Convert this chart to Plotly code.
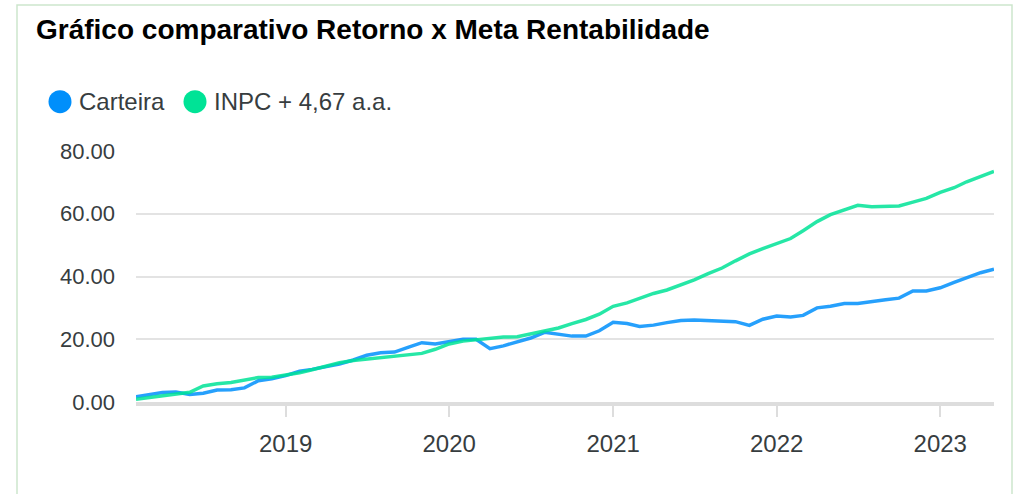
import plotly.graph_objects as go
import pandas as pd

# ---- data ----
months = pd.date_range("2018-02-01", periods=64, freq="MS")
carteira = [1.7, 2.2, 3.0, 3.2, 2.4, 2.8, 3.8, 3.9, 4.5, 6.8, 7.4, 8.4,
            9.8, 10.4, 11.3, 12.1, 13.4, 14.9, 15.7, 15.9, 17.4, 18.9, 18.5, 19.3,
            20.0, 20.0, 17.0, 17.9, 19.1, 20.4, 22.2, 21.7, 21.0, 21.0, 22.7, 25.4,
            25.0, 24.1, 24.5, 25.3, 26.0, 26.1, 25.9, 25.6, 25.6, 24.4, 26.4, 27.4,
            27.1, 27.6, 30.0, 30.5, 31.4, 31.4, 32.1, 32.6, 33.1, 35.4, 35.4, 36.4,
            38.1, 39.5, 41.2, 42.3]
inpc = [0.9, 1.4, 1.9, 2.4, 3.1, 5.1, 5.8, 6.2, 7.0, 7.8, 7.9, 8.5,
        9.3, 10.3, 11.5, 12.5, 13.2, 13.6, 14.1, 14.7, 15.1, 15.5, 16.8, 18.5,
        19.4, 19.9, 20.4, 20.7, 20.8, 21.7, 22.6, 23.6, 25.0, 26.3, 28.0, 30.5,
        31.6, 33.1, 34.6, 35.7, 37.4, 38.9, 40.9, 42.7, 45.0, 47.2, 48.9, 50.5,
        52.1, 54.6, 57.5, 59.7, 61.1, 62.7, 62.2, 62.4, 62.5, 63.7, 64.9, 66.8,
        68.3, 70.2, 71.9, 73.5]
series_names = ["Carteira", "INPC + 4,67 a.a."]
legend_colors = ["#008FFB", "#00E396"]
line_colors = ["rgba(0,143,251,0.85)", "rgba(0,227,150,0.85)"]
y_ticks = [0, 20, 40, 60, 80]
x_ticks = ["2019-01-01", "2020-01-01", "2021-01-01", "2022-01-01", "2023-01-01"]
x_tick_labels = ["2019", "2020", "2021", "2022", "2023"]

W, H = 1016, 494
OFF = 0  # page body margin is removed via post_script
PX0, PX1, PY0, PY1 = 136, 994, 151, 402
L, T = PX0 - OFF, PY0 - OFF
R, B = W - (PX1 - OFF), H - (PY1 - OFF)
PW, PH = PX1 - PX0, PY1 - PY0


def px(x):
    return (x - PX0) / PW


def py(y):
    return (PY1 - y) / PH


FONT = "Liberation Sans, Arial, sans-serif"
TXT = "#373d3f"

fig = go.Figure()
for name, vals, col in zip(series_names, [carteira, inpc], line_colors):
    fig.add_trace(go.Scatter(x=months, y=vals, mode="lines", name=name,
                             line=dict(color=col, width=3.5), showlegend=False,
                             hoverinfo="x+y"))

shapes = [
    dict(type="rect", xref="paper", yref="paper", x0=px(17), x1=px(1012),
         y0=py(530), y1=py(5), line=dict(color="#cde6cd", width=1.5),
         fillcolor="rgba(0,0,0,0)", layer="below"),
]
annotations = []
leg_cx = [60, 195]
leg_tx = [77, 212]
leg_cy = 101.7
rad = 11.5
for name, col, cx, tx in zip(series_names, legend_colors, leg_cx, leg_tx):
    shapes.append(dict(type="circle", xref="paper", yref="paper",
                       x0=px(cx - rad), x1=px(cx + rad),
                       y0=py(leg_cy + rad), y1=py(leg_cy - rad),
                       fillcolor=col, line=dict(width=0)))
    annotations.append(dict(xref="paper", yref="paper", x=px(tx), y=py(leg_cy),
                            xanchor="left", yanchor="middle", showarrow=False,
                            text=name, font=dict(family=FONT, size=24, color=TXT)))

fig.update_layout(
    width=W, height=H,
    margin=dict(l=L, r=R, t=T, b=B, pad=0),
    paper_bgcolor="white", plot_bgcolor="white",
    title=dict(text="Gráfico comparativo Retorno x Meta Rentabilidade",
               xref="container", yref="container", x=(36 - OFF) / W, xanchor="left",
               y=1 - (29 - OFF) / H, yanchor="middle",
               font=dict(family=FONT, size=28, color="#000000", weight="bold")),
    shapes=shapes, annotations=annotations,
    showlegend=False,
    xaxis=dict(range=[months[0], months[-1]], tickvals=x_ticks, ticktext=x_tick_labels,
               showgrid=False, zeroline=False, showline=True, linecolor="#dddddd",
               linewidth=4, ticks="outside", ticklen=11, tickwidth=2, tickcolor="#dddddd",
               tickfont=dict(family=FONT, size=24, color=TXT), ticklabelstandoff=6),
    yaxis=dict(range=[0, 80], tickvals=y_ticks, tickformat=".2f",
               showgrid=True, gridcolor="#e3e3e3", gridwidth=2, zeroline=False,
               showline=False, ticks="",
               tickfont=dict(family=FONT, size=22, color=TXT), ticklabelstandoff=20),
)

fig.write_html("out.html",
               config={"displayModeBar": False},
               post_script="document.body.style.margin='0';document.body.style.overflow='hidden';")
